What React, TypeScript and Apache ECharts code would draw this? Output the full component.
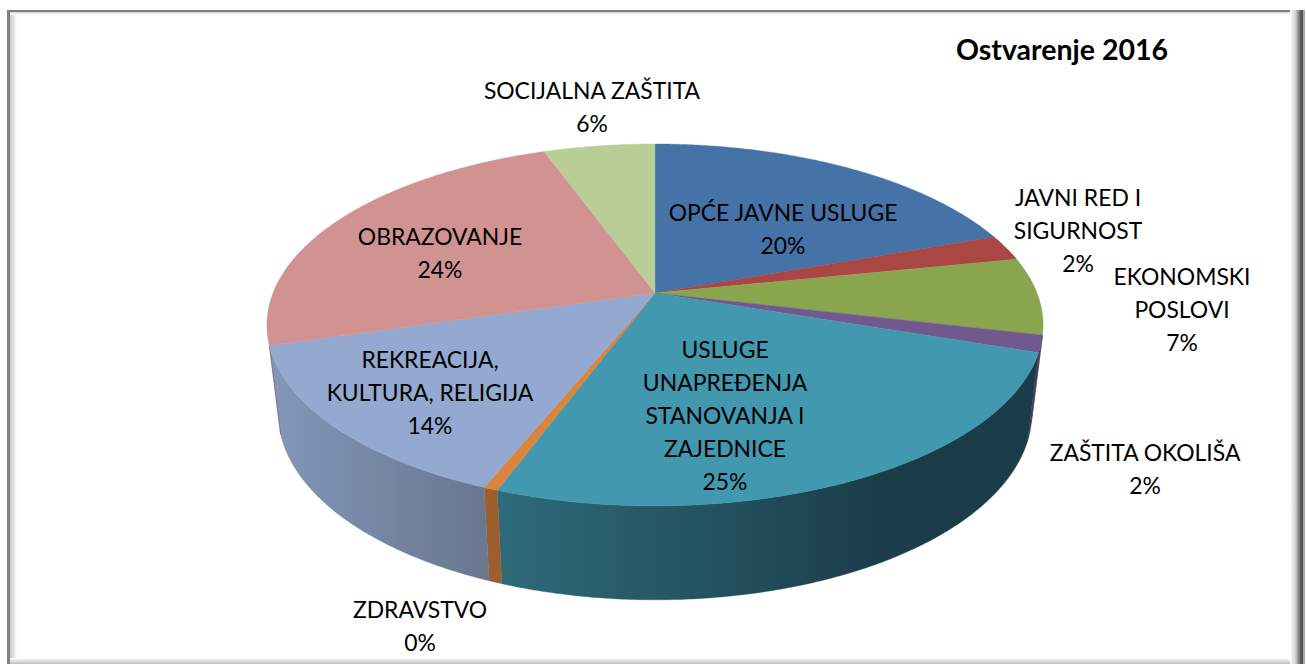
import React, { useEffect, useRef } from "react";
import * as echarts from "echarts";

const categories = [
  "OPĆE JAVNE USLUGE",
  "JAVNI RED I SIGURNOST",
  "EKONOMSKI POSLOVI",
  "ZAŠTITA OKOLIŠA",
  "USLUGE UNAPREĐENJA STANOVANJA I ZAJEDNICE",
  "ZDRAVSTVO",
  "REKREACIJA, KULTURA, RELIGIJA",
  "OBRAZOVANJE",
  "SOCIJALNA ZAŠTITA",
];
const shares = [19.5, 2.3, 6.9, 1.5, 25.4, 0.5, 14.3, 24.1, 5.5];
const percentLabels = ["20%", "2%", "7%", "2%", "25%", "0%", "14%", "24%", "6%"];
const labelLines = [
  ["OPĆE JAVNE USLUGE"],
  ["JAVNI RED I", "SIGURNOST"],
  ["EKONOMSKI", "POSLOVI"],
  ["ZAŠTITA OKOLIŠA"],
  ["USLUGE", "UNAPREĐENJA", "STANOVANJA I", "ZAJEDNICE"],
  ["ZDRAVSTVO"],
  ["REKREACIJA,", "KULTURA, RELIGIJA"],
  ["OBRAZOVANJE"],
  ["SOCIJALNA ZAŠTITA"],
];
const title = "Ostvarenje 2016";

// layout and styles
const labelCenters = [
  [783, 228], [1078, 230], [1182, 309], [1145, 468], [725, 415],
  [420, 625], [430, 392], [440, 252], [592, 106],
];
const topColors = ["#4572A7", "#AA4643", "#89A54E", "#71588F", "#4198AF", "#DB843D", "#93A9CF", "#D19392", "#B9CD96"];
const wallColors: any[] = [
  "#2c4568", "#682a29", "#536630", "#4a3560",
  { x: 497, x2: 880, stops: ["#2E6B7B", "#1B3D4A"] },
  "#9C5F2D",
  { x: 270, x2: 484, stops: ["#8397B9", "#69778F"] },
  "#80595a", "#707c5b",
];
const FONT = "Lato, 'Open Sans', sans-serif";
const CX = 655, CY = 293, A = 382, B = 175.3, K = 0.1765;
const WALL_FROM = 103.3, WALL_TO = 253.6;

const rad = (d: number) => (d * Math.PI) / 180;
const top = (deg: number): number[] => {
  const u = Math.sin(rad(deg)), v = Math.cos(rad(deg)), w = 1 + K * v;
  return [CX + (A * u) / w, CY - (B * v) / w];
};
const base = (deg: number): number[] => {
  const [x, y] = top(deg);
  return [CX + (x - CX) * 0.971, y + 88 + (y - 325) * 0.033];
};
const arc = (f: (d: number) => number[], a: number, b: number): number[][] => {
  const n = Math.max(2, Math.ceil(Math.abs(b - a) * 2));
  const out: number[][] = [];
  for (let i = 0; i <= n; i++) out.push(f(a + ((b - a) * i) / n));
  return out;
};
const total = shares.reduce((s, v) => s + v, 0);
const startDeg = (i: number) => (shares.slice(0, i).reduce((s, v) => s + v, 0) / total) * 360;

const fillOf = (c: any) =>
  typeof c === "string"
    ? c
    : {
        type: "linear", x: c.x, y: 0, x2: c.x2, y2: 0, global: true,
        colorStops: [
          { offset: 0, color: c.stops[0] },
          { offset: 1, color: c.stops[1] },
        ],
      };

const hGrad = (x: number, x2: number, stops: [number, string][]) => ({
  type: "linear", x, y: 0, x2, y2: 0, global: true,
  colorStops: stops.map(([offset, color]) => ({ offset, color })),
});
const vGrad = (y: number, y2: number, stops: [number, string][]) => ({
  type: "linear", x: 0, y, x2: 0, y2, global: true,
  colorStops: stops.map(([offset, color]) => ({ offset, color })),
});
const rect = (x: number, y: number, width: number, height: number, fill: any) => ({
  type: "rect", silent: true, shape: { x, y, width, height }, style: { fill },
});

export default function App() {
  const ref = useRef<HTMLDivElement>(null);
  useEffect(() => {
    document.body.style.margin = "0";
    const chart = echarts.init(ref.current!, null, { renderer: "svg" });
    const seriesData = shares.map((v) => [v]);

    const labels = labelLines.map((lines, i) => ({
      type: "text",
      silent: true,
      z: 10,
      x: labelCenters[i][0],
      y: labelCenters[i][1],
      style: {
        text: [...lines, percentLabels[i]].join("\n"),
        font: `22.9px ${FONT}`,
        lineHeight: 33,
        fill: "#000",
        align: "center",
        verticalAlign: "middle",
      },
    }));

    chart.setOption({
      animation: false,
      backgroundColor: "#fff",
      graphic: [
        rect(10, 12, 7, 650, hGrad(10, 17, [[0, "#c4c4c4"], [1, "#ffffff"]])),
        rect(10, 12, 1280, 3, vGrad(12, 15, [[0, "#d4d4d4"], [1, "#ffffff"]])),
        rect(7, 10, 3, 654, "#808080"),
        rect(7, 10, 1295, 2, "#808080"),
        rect(1290, 10, 11, 654, hGrad(1290, 1301, [[0, "#ffffff"], [0.5, "#d0d0d0"], [1, "#555555"]])),
        rect(1301, 10, 2, 654, "#555555"),
        rect(1303, 10, 2, 654, "#a8a8a8"),
        rect(10, 658, 1280, 6, vGrad(658, 664, [[0, "#ffffff"], [1, "#bdbdbd"]])),
        ...labels,
        {
          type: "text",
          silent: true,
          z: 10,
          x: 1062,
          y: 49,
          style: {
            text: title,
            font: `bold 28.5px ${FONT}`,
            fill: "#000",
            align: "center",
            verticalAlign: "middle",
          },
        },
      ],
      series: [
        {
          type: "custom",
          name: "walls",
          coordinateSystem: "none",
          silent: true,
          z: 2,
          data: seriesData,
          renderItem: (params: any) => {
            const i = params.dataIndex;
            const a = Math.max(startDeg(i), WALL_FROM);
            const b = Math.min(startDeg(i + 1), WALL_TO);
            if (b <= a) return { type: "group", children: [] };
            const fill = fillOf(wallColors[i]);
            const pts = [...arc(top, a, b), ...arc(base, b, a)];
            return {
              type: "polygon",
              shape: { points: pts },
              style: { fill, stroke: fill, lineWidth: 0.4 },
            };
          },
        },
        {
          type: "custom",
          name: "faces",
          coordinateSystem: "none",
          silent: true,
          z: 3,
          data: seriesData,
          renderItem: (params: any) => {
            const i = params.dataIndex;
            const pts = [[CX, CY], ...arc(top, startDeg(i), startDeg(i + 1))];
            return {
              type: "polygon",
              shape: { points: pts },
              style: { fill: topColors[i], stroke: topColors[i], lineWidth: 0.4 },
            };
          },
        },
      ],
    });
    return () => chart.dispose();
  }, []);
  return (
    <div
      ref={ref}
      aria-label={categories.join(", ")}
      style={{ position: "absolute", left: 0, top: 0, width: 1306, height: 664 }}
    />
  );
}
